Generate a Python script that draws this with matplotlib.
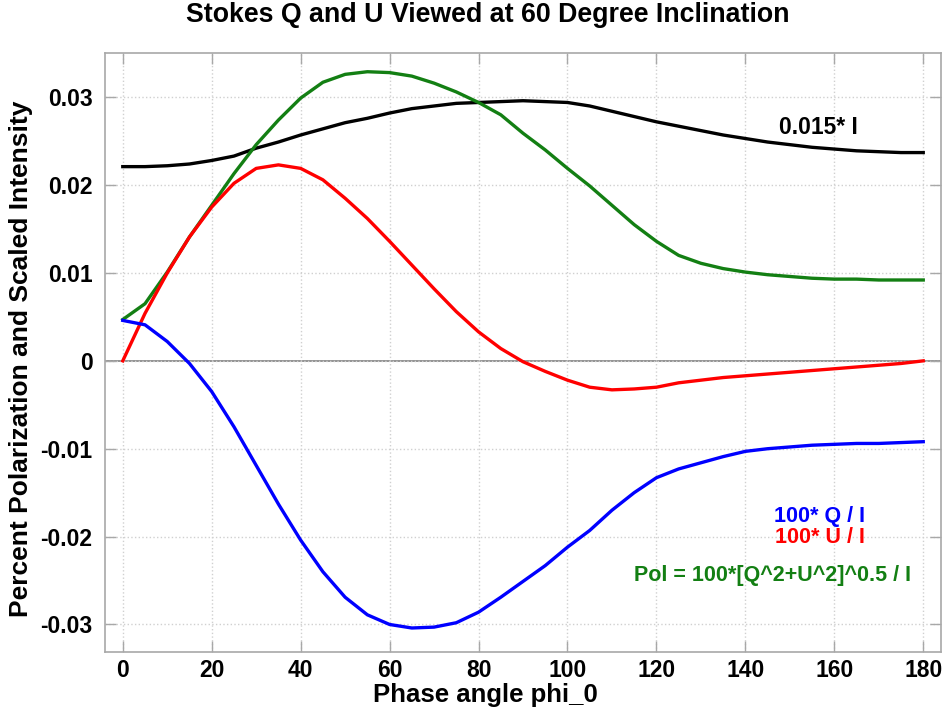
import matplotlib
matplotlib.use('Agg')
import matplotlib.pyplot as plt
import numpy

plt.rcParams['font.family'] = ['Liberation Sans', 'DejaVu Sans']
plt.rcParams['font.weight'] = 'bold'

phi = numpy.arange(0, 181, 5)

# 100*Q/I
q = [0.0046, 0.0041, 0.0022, -0.0003, -0.0035, -0.0075, -0.0119, -0.0163,
     -0.0204, -0.0240, -0.0269, -0.0289, -0.0300, -0.0304, -0.0303, -0.0298,
     -0.0286, -0.0269, -0.0251, -0.0233, -0.0212, -0.0193, -0.0170, -0.0150,
     -0.0133, -0.0123, -0.0116, -0.0109, -0.0103, -0.0100, -0.0098, -0.0096,
     -0.0095, -0.0094, -0.0094, -0.0093, -0.0092]

# 100*U/I
u = [0.0, 0.0054, 0.0100, 0.0141, 0.0175, 0.0202, 0.0219, 0.0223,
     0.0219, 0.0206, 0.0185, 0.0162, 0.0136, 0.0109, 0.0082, 0.0056,
     0.0033, 0.0014, -0.0001, -0.0012, -0.0022, -0.0030, -0.0033, -0.0032,
     -0.0030, -0.0025, -0.0022, -0.0019, -0.0017, -0.0015, -0.0013, -0.0011,
     -0.0009, -0.0007, -0.0005, -0.0003, 0.0]

# 100*[Q^2+U^2]^0.5/I
pol = [0.0047, 0.0065, 0.0101, 0.0141, 0.0177, 0.0213, 0.0246, 0.0274,
       0.0299, 0.0317, 0.0326, 0.0329, 0.0328, 0.0324, 0.0316, 0.0306,
       0.0294, 0.0280, 0.0259, 0.0240, 0.0219, 0.0199, 0.0177, 0.0155,
       0.0136, 0.0120, 0.0111, 0.0105, 0.0101, 0.0098, 0.0096, 0.0094,
       0.0093, 0.0093, 0.0092, 0.0092, 0.0092]

# 0.015*I
inten = [0.0221, 0.0221, 0.0222, 0.0224, 0.0228, 0.0233, 0.0242, 0.0249,
         0.0257, 0.0264, 0.0271, 0.0276, 0.0282, 0.0287, 0.0290, 0.0293,
         0.0294, 0.0295, 0.0296, 0.0295, 0.0294, 0.0290, 0.0284, 0.0278,
         0.0272, 0.0267, 0.0262, 0.0257, 0.0253, 0.0249, 0.0246, 0.0243,
         0.0241, 0.0239, 0.0238, 0.0237, 0.0237]

xticks = [0, 20, 40, 60, 80, 100, 120, 140, 160, 180]
yticks = [-0.03, -0.02, -0.01, 0, 0.01, 0.02, 0.03]
ylabels = ['-0.03', '-0.02', '-0.01', '0', '0.01', '0.02', '0.03']

fig = plt.figure(figsize=[9.45, 7.15], dpi=100)
ax = fig.add_axes([0.1111, 0.0885, 0.8847, 0.837])

ax.axhline(0, color='#808080', lw=1.2, zorder=1)
ax.plot(phi, inten, color='black', lw=2.4)
ax.plot(phi, pol, color='#137f13', lw=2.4)
ax.plot(phi, u, color='#ff0000', lw=2.4)
ax.plot(phi, q, color='#0000ff', lw=2.4)

ax.set_xlim(-4, 184)
ax.set_ylim(-0.0331, 0.035)
ax.set_xticks(xticks)
ax.set_yticks(yticks)
ax.set_yticklabels(ylabels)
ax.tick_params(direction='in', length=8, width=1, color='#a8a8a8',
               top=True, right=True, labelsize=16.5)
ax.tick_params(axis='y', pad=9)
ax.tick_params(axis='x', pad=5)
ax.grid(True, linestyle=':', color='#d0d0d0', lw=1)
for s in ax.spines.values():
    s.set_color('#a8a8a8')
    s.set_linewidth(1.2)

ax.set_xlabel('Phase angle phi_0', fontsize=18.5, fontweight='bold')
ax.xaxis.set_label_coords(0.4545, -0.053)
ax.set_ylabel('Percent Polarization and Scaled Intensity', fontsize=19,
              fontweight='bold')
ax.yaxis.set_label_coords(-0.086, 0.49)
fig.suptitle('Stokes Q and U Viewed at 60 Degree Inclination', fontsize=19.3,
             fontweight='bold', x=0.516, y=0.997)

ax.text(156.5, 0.0266, '0.015* I', color='black', fontsize=16.5,
        fontweight='bold', ha='center', va='center')
ax.text(166.8, -0.0177, '100* Q / I', color='#0000ff', fontsize=15.5,
        fontweight='bold', ha='right', va='center')
ax.text(166.8, -0.0201, '100* U / I', color='#ff0000', fontsize=15.5,
        fontweight='bold', ha='right', va='center')
ax.text(177.2, -0.0244, 'Pol = 100*[Q^2+U^2]^0.5 / I', color='#137f13',
        fontsize=15.5, fontweight='bold', ha='right', va='center')

plt.savefig('out.png', dpi=100)
